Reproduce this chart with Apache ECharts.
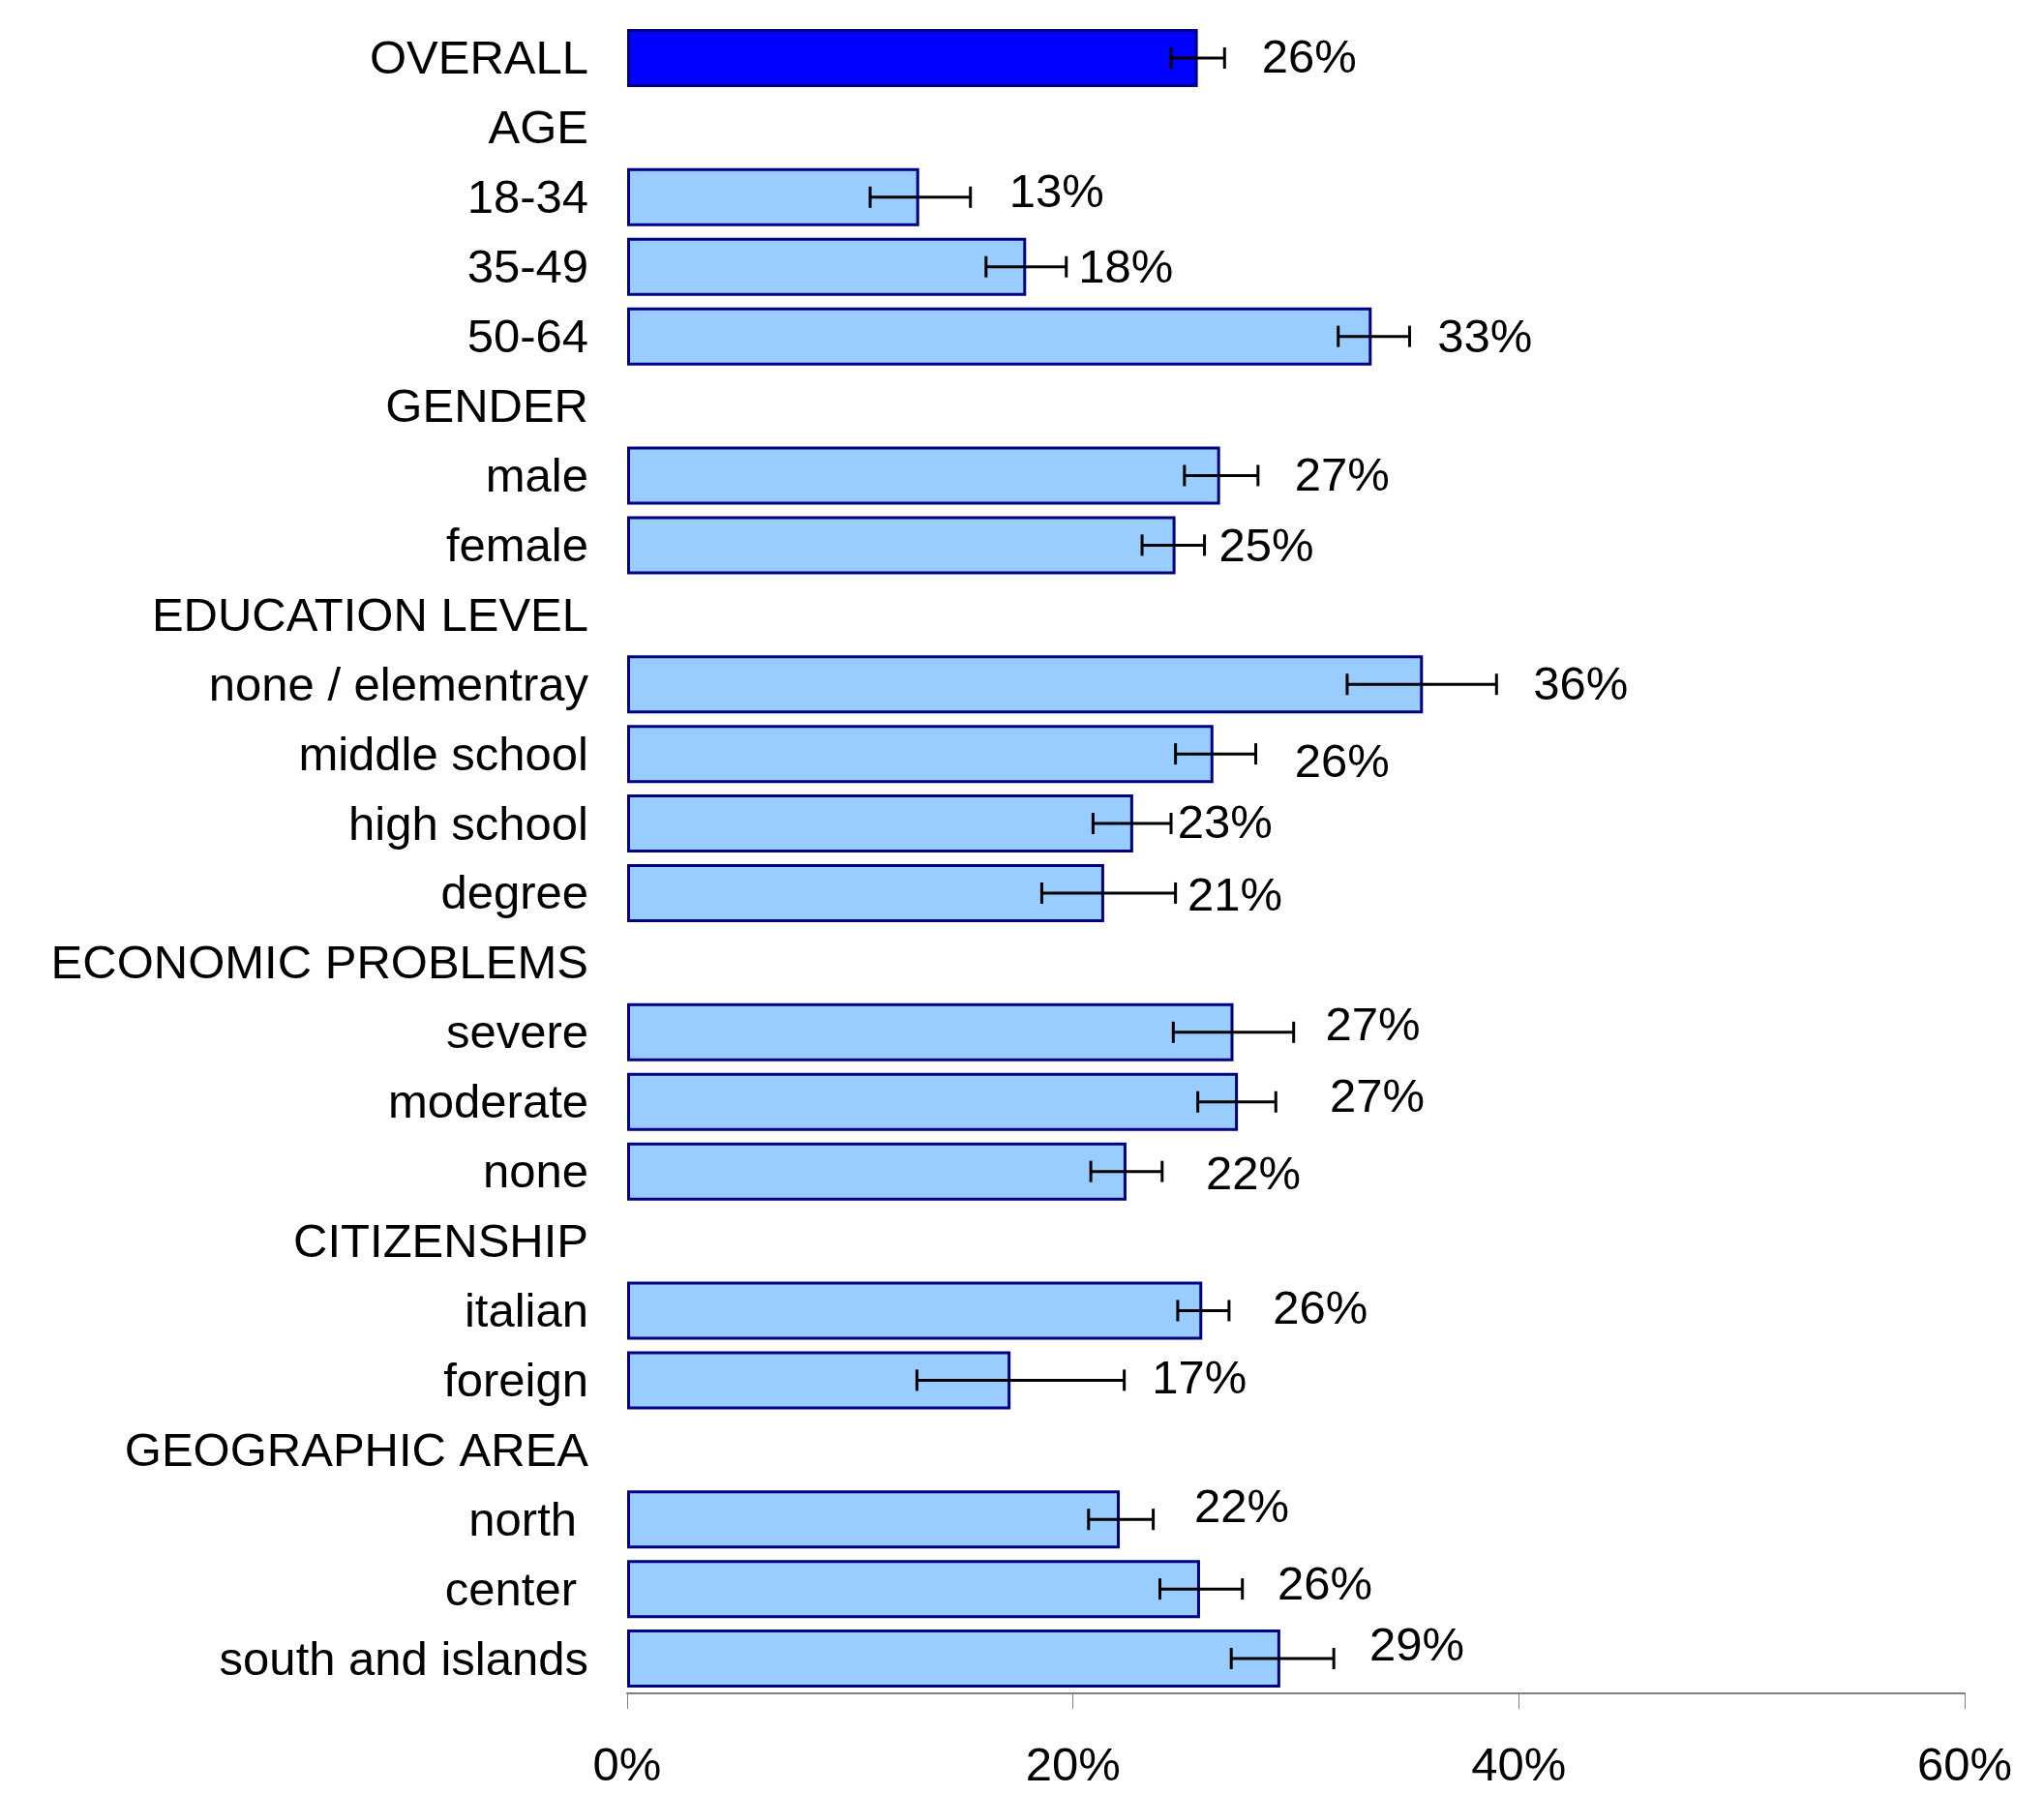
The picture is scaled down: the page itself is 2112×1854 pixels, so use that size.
<!DOCTYPE html>
<html>
<head>
<meta charset="utf-8">
<script src="https://cdn.jsdelivr.net/npm/echarts@6/dist/echarts.min.js"></script>
<style>
html,body{margin:0;padding:0;background:#fff;}
#chart{width:2112px;height:1854px;}
</style>
</head>
<body>
<div id="chart"></div>
<script>
// ---- data ----
const categories = [
  'OVERALL', 'AGE', '18-34', '35-49', '50-64', 'GENDER', 'male', 'female',
  'EDUCATION LEVEL', 'none / elementray', 'middle school', 'high school', 'degree',
  'ECONOMIC PROBLEMS', 'severe', 'moderate', 'none', 'CITIZENSHIP', 'italian', 'foreign',
  'GEOGRAPHIC AREA', 'north', 'center', 'south and islands'
];
const values = [
  25.6, null, 13.1, 17.9, 33.4, null, 26.6, 24.6,
  null, 35.7, 26.3, 22.7, 21.4,
  null, 27.2, 27.4, 22.4, null, 25.8, 17.2,
  null, 22.1, 25.7, 29.3
];
const errLow = [
  24.4, null, 10.9, 16.1, 31.9, null, 25.0, 23.1,
  null, 32.3, 24.6, 20.9, 18.6,
  null, 24.5, 25.6, 20.8, null, 24.7, 13.0,
  null, 20.7, 23.9, 27.1
];
const errHigh = [
  26.8, null, 15.4, 19.7, 35.1, null, 28.3, 25.9,
  null, 39.0, 28.2, 24.4, 24.6,
  null, 29.9, 29.1, 24.0, null, 27.0, 22.3,
  null, 23.6, 27.6, 31.7
];
const xTicks = [0, 20, 40, 60];

// ---- label nudges (layout only, px) ----
const labelShift = [
  [66, 2], null, [93, -3], [54, 3], [68, 3], null, [77, 2], [45, 3],
  null, [114, 2], [84, 10], [46, 1], [86, 5],
  null, [95, -5], [95, -3], [82, 5], null, [73, 0], [146, 0],
  null, [77, -11], [80, -3], [92, -12]
];
const indentedLabels = ['north', 'center'];

const FONT = "'Liberation Sans', Arial, sans-serif";

const barData = values.map((v, i) => {
  if (v === null) return '-';
  return {
    value: v,
    itemStyle: { color: i === 0 ? '#0000FF' : '#99CCFF' },
    label: { offset: labelShift[i] || [0, 0] }
  };
});

const errData = values.map((v, i) => (v === null ? null : [i, errLow[i], errHigh[i]])).filter(d => d);

const chart = echarts.init(document.getElementById('chart'), null, { renderer: 'canvas' });
chart.setOption({
  animation: false,
  backgroundColor: '#ffffff',
  grid: { left: 648, right: 82, top: 24, bottom: 104, containLabel: false, outerBoundsMode: 'none' },
  xAxis: {
    type: 'value',
    min: xTicks[0],
    max: xTicks[xTicks.length - 1],
    interval: 20,
    splitLine: { show: false },
    axisLine: { show: true, lineStyle: { color: '#808080', width: 2 } },
    axisTick: { show: true, length: 16, inside: false, lineStyle: { color: '#808080', width: 1 } },
    axisLabel: {
      color: '#000', fontSize: 49, fontFamily: FONT, margin: 52,
      formatter: v => v + '%'
    }
  },
  yAxis: {
    type: 'category',
    data: categories,
    inverse: true,
    axisLine: { show: false },
    axisTick: { show: false },
    axisLabel: {
      color: '#000', fontSize: 49, fontFamily: FONT, margin: 40,
      padding: [6, 0, 0, 0],
      formatter: v => indentedLabels.indexOf(v) >= 0 ? '{s|' + v + '}' : v,
      rich: { s: { fontSize: 49, fontFamily: FONT, color: '#000', padding: [0, 12, 0, 0] } }
    }
  },
  series: [
    {
      type: 'bar',
      data: barData,
      barWidth: 60,
      itemStyle: { borderColor: '#000080', borderWidth: 3 },
      label: {
        show: true,
        position: 'right',
        distance: 0,
        color: '#000',
        fontSize: 49,
        fontFamily: FONT,
        formatter: p => Math.round(p.value) + '%'
      },
      z: 2
    },
    {
      type: 'custom',
      data: errData,
      encode: { x: [1, 2], y: 0 },
      z: 5,
      renderItem: function (params, api) {
        const idx = api.value(0);
        const p1 = api.coord([api.value(1), idx]);
        const p2 = api.coord([api.value(2), idx]);
        const h = 11;
        const style = { stroke: '#000', lineWidth: 3 };
        return {
          type: 'group',
          children: [
            { type: 'line', shape: { x1: p1[0], y1: p1[1], x2: p2[0], y2: p2[1] }, style },
            { type: 'line', shape: { x1: p1[0], y1: p1[1] - h, x2: p1[0], y2: p1[1] + h }, style },
            { type: 'line', shape: { x1: p2[0], y1: p2[1] - h, x2: p2[0], y2: p2[1] + h }, style }
          ]
        };
      }
    }
  ]
});
</script>
</body>
</html>
